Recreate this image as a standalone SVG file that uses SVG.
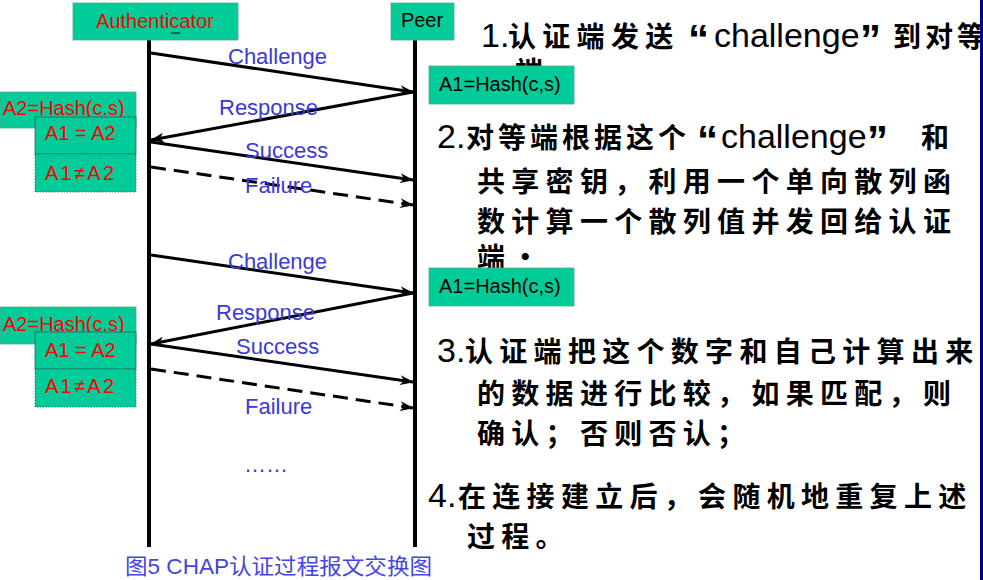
<svg xmlns="http://www.w3.org/2000/svg" width="983" height="580" viewBox="0 0 983 580">
<style>
.box{fill:#00CC99;stroke:#5aa88c;stroke-width:0.8}
.boxd{fill:#00CC99;stroke:#2f5f55;stroke-width:0.8}
.boxdot{fill:#00CC99;stroke:#2f5f55;stroke-width:0.8;stroke-dasharray:1.5 1.5}
.t{font-family:"Liberation Sans",Arial,sans-serif;font-size:20px}
.red{fill:#FF0000}
.blk{fill:#000}
.lbl{font-family:"Liberation Sans",Arial,sans-serif;font-size:22px;fill:#3A3AD8}
.life{stroke:#000;stroke-width:4}
.msg{stroke:#000;stroke-width:3;fill:none;marker-end:url(#ah)}
.dash{stroke-dasharray:15 8}
.num,.lat{font-family:"Liberation Sans",Arial,sans-serif;font-size:34px;font-weight:400;fill:#000}
.q{font-family:"Liberation Sans",Arial,sans-serif;font-size:42px;font-weight:700;fill:#000}
.cj{font-family:"Noto Sans CJK SC",sans-serif;font-size:28px;font-weight:700;letter-spacing:6.3px;fill:#000}
.cap{font-family:"Liberation Sans",Arial,"Noto Sans CJK SC",sans-serif;font-size:22px;fill:#4545E0}
</style>
<defs>
<marker id="ah" viewBox="0 0 14 10" refX="13" refY="5" markerWidth="14" markerHeight="10" markerUnits="userSpaceOnUse" orient="auto">
<path d="M0,0 L14,5 L0,10 L4,5 z" fill="#000"/>
</marker>
</defs>
<rect width="983" height="580" fill="#fff"/>

<!-- right-side explanatory text -->
<g id="notes">
<text y="47"><tspan class="num" x="481">1.</tspan><tspan class="cj" x="508">认证端发送</tspan><tspan class="q" x="688" y="54">“</tspan><tspan class="lat" x="714" y="47">challenge</tspan><tspan class="q" x="860" y="54">”</tspan><tspan class="cj" x="893" y="47" style="letter-spacing:4px">到对等</tspan></text>
<text class="cj" x="515" y="82">端</text>
<text y="148"><tspan class="num" x="437">2.</tspan><tspan class="cj" x="466" style="letter-spacing:4px">对等端根据这个</tspan><tspan class="q" x="697" y="155">“</tspan><tspan class="lat" x="721" y="148">challenge</tspan><tspan class="q" x="867" y="155">”</tspan><tspan class="cj" x="921" y="148">和</tspan></text>
<text class="cj" x="477" y="192">共享密钥，利用一个单向散列函</text>
<text class="cj" x="477" y="232">数计算一个散列值并发回给认证</text>
<text class="cj" x="477" y="268">端·</text>
<text y="362"><tspan class="num" x="437">3.</tspan><tspan class="cj" x="465">认证端把这个数字和自己计算出来</tspan></text>
<text class="cj" x="477" y="404">的数据进行比较，如果匹配，则</text>
<text class="cj" x="477" y="444">确认；否则否认；</text>
<text y="507"><tspan class="num" x="428">4.</tspan><tspan class="cj" x="458">在连接建立后，会随机地重复上述</tspan></text>
<text class="cj" x="467" y="547">过程。</text>
</g>

<!-- lifeline nodes -->
<g id="authenticator">
<line class="life" x1="149" y1="40" x2="149" y2="547"/>
<rect class="box" x="73" y="3" width="165" height="37"/>
<text class="t red" x="155" y="28" text-anchor="middle">Authenticator</text>
<line x1="171" y1="33" x2="180" y2="33" stroke="#000" stroke-width="1"/>
</g>
<g id="peer">
<line class="life" x1="415" y1="40" x2="415" y2="547"/>
<rect class="box" x="391" y="3" width="63" height="37"/>
<text class="t blk" x="422" y="27" text-anchor="middle">Peer</text>
</g>

<!-- peer hash boxes -->
<g id="peer-hash-1">
<rect class="box" x="429" y="66" width="145" height="38"/>
<text class="t blk" x="439" y="91">A1=Hash(c,s)</text>
</g>
<g id="peer-hash-2">
<rect class="box" x="429" y="268" width="145" height="38"/>
<text class="t blk" x="439" y="293">A1=Hash(c,s)</text>
</g>

<!-- authenticator boxes, round 1 -->
<g id="auth-hash-1">
<rect class="box" x="0" y="92" width="136" height="36"/>
<text class="t red" x="3" y="115">A2=Hash(c.s)</text>
</g>
<g id="auth-eq-1">
<rect class="boxd" x="35" y="117" width="101" height="37"/>
<text class="t red" x="45" y="140">A1 = A2</text>
</g>
<g id="auth-neq-1">
<rect class="boxdot" x="35" y="154" width="101" height="38"/>
<text class="t red" x="45" y="180" textLength="69" lengthAdjust="spacing">A1≠A2</text>
</g>

<!-- authenticator boxes, round 2 -->
<g id="auth-hash-2">
<rect class="box" x="0" y="307" width="136" height="37"/>
<text class="t red" x="3" y="331">A2=Hash(c.s)</text>
</g>
<g id="auth-eq-2">
<rect class="boxd" x="35" y="332" width="101" height="37"/>
<text class="t red" x="45" y="357">A1 = A2</text>
</g>
<g id="auth-neq-2">
<rect class="boxdot" x="35" y="369" width="101" height="38"/>
<text class="t red" x="45" y="393" textLength="69" lengthAdjust="spacing">A1≠A2</text>
</g>

<!-- connectors -->
<g id="connectors">
<line class="msg" x1="151" y1="53" x2="413" y2="92"/>
<line class="msg" x1="413" y1="92" x2="151" y2="140"/>
<line class="msg" x1="151" y1="142" x2="413" y2="180"/>
<line class="msg dash" x1="151" y1="167" x2="413" y2="205"/>
<line class="msg" x1="151" y1="255" x2="413" y2="293"/>
<line class="msg" x1="413" y1="293" x2="151" y2="344"/>
<line class="msg" x1="151" y1="344" x2="413" y2="382"/>
<line class="msg dash" x1="151" y1="369" x2="413" y2="408"/>
<text class="lbl" x="228" y="64">Challenge</text>
<text class="lbl" x="219" y="115">Response</text>
<text class="lbl" x="245" y="158">Success</text>
<text class="lbl" x="245" y="193">Failure</text>
<text class="lbl" x="228" y="269">Challenge</text>
<text class="lbl" x="216" y="320">Response</text>
<text class="lbl" x="236" y="354">Success</text>
<text class="lbl" x="245" y="414">Failure</text>
<text class="lbl" x="244" y="472">……</text>
</g>

<text class="cap" x="125" y="574" textLength="307" lengthAdjust="spacingAndGlyphs">图5 CHAP认证过程报文交换图</text>

<rect x="980" y="0" width="3" height="580" fill="#000080"/>
</svg>
